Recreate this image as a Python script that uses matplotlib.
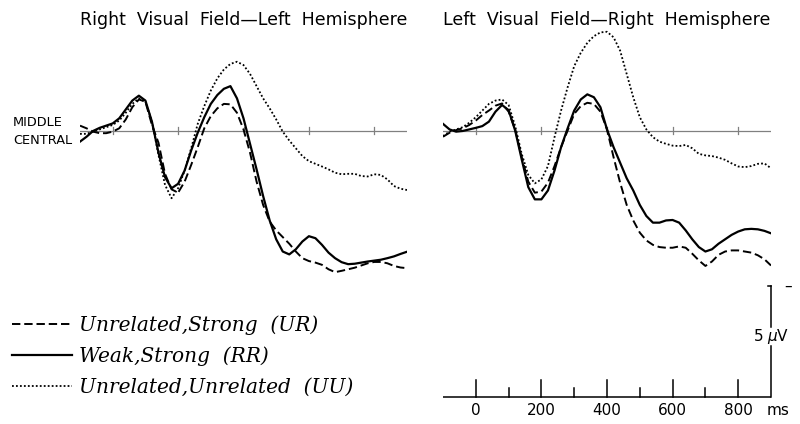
import matplotlib.pyplot as plt

# time axis (ms) and averaged ERP amplitudes (microvolts, negative up)
times = list(range(-100, 901, 20))

left_ur = [-0.22, -0.1, 0.05, 0.12, 0.12, 0.05, -0.1, -0.5, -1.05, -1.4,
           -1.3, -0.25, 0.55, 1.95, 2.65, 2.8, 2.3, 1.55, 0.75, -0.1,
           -0.65, -1.0, -1.2, -1.18, -0.8, -0.05, 1.0, 2.3, 3.35, 4.1,
           4.5, 4.8, 5.1, 5.45, 5.75, 5.88, 5.95, 6.05, 6.25, 6.38,
           6.32, 6.25, 6.18, 6.08, 5.98, 5.92, 5.92, 5.98, 6.1, 6.17, 6.2]
left_rr = [0.5, 0.28, 0.02, -0.12, -0.22, -0.32, -0.55, -0.95, -1.35, -1.57,
           -1.35, -0.4, 1.0, 2.1, 2.6, 2.4, 1.8, 0.9, 0.1, -0.6,
           -1.2, -1.6, -1.88, -2.0, -1.45, -0.55, 0.6, 1.75, 2.95, 4.05,
           4.9, 5.45, 5.58, 5.35, 5.0, 4.76, 4.85, 5.15, 5.5, 5.75,
           5.93, 6.02, 6.0, 5.95, 5.9, 5.86, 5.82, 5.75, 5.67, 5.56, 5.46]
left_uu = [0.15, 0.15, 0.05, -0.05, -0.15, -0.25, -0.45, -0.8, -1.2, -1.45,
           -1.3, -0.4, 1.1, 2.45, 3.05, 2.6, 1.8, 0.8, -0.3, -1.1,
           -1.8, -2.35, -2.75, -3.0, -3.1, -2.95, -2.55, -2.0, -1.45, -1.0,
           -0.5, 0.05, 0.45, 0.8, 1.15, 1.38, 1.5, 1.62, 1.75, 1.9,
           1.97, 1.95, 1.95, 2.05, 2.07, 1.97, 2.0, 2.2, 2.5, 2.62, 2.68]

right_ur = [0.28, 0.1, -0.02, -0.1, -0.25, -0.45, -0.7, -0.9, -1.12, -1.22,
            -0.85, -0.05, 1.2, 2.3, 2.8, 2.75, 2.35, 1.6, 0.75, 0.0,
            -0.75, -1.1, -1.25, -1.2, -0.85, -0.05, 1.2, 2.35, 3.35, 4.05,
            4.6, 4.95, 5.15, 5.25, 5.28, 5.28, 5.22, 5.28, 5.55, 5.85,
            6.1, 5.9, 5.6, 5.45, 5.4, 5.4, 5.45, 5.5, 5.62, 5.8, 6.08]
right_rr = [-0.3, -0.05, 0.05, 0.02, -0.05, -0.12, -0.2, -0.4, -0.85, -1.15,
            -0.92, 0.0, 1.3, 2.55, 3.1, 3.1, 2.7, 1.8, 0.75, -0.1,
            -0.9, -1.4, -1.63, -1.5, -1.05, -0.05, 0.75, 1.45, 2.15, 2.7,
            3.35, 3.85, 4.15, 4.15, 4.05, 4.03, 4.15, 4.5, 4.9, 5.25,
            5.45, 5.35, 5.1, 4.9, 4.7, 4.55, 4.45, 4.43, 4.45, 4.52, 4.63]
right_uu = [0.25, 0.05, -0.05, -0.15, -0.35, -0.6, -0.9, -1.2, -1.35, -1.4,
            -1.15, -0.2, 1.05, 2.0, 2.38, 2.2, 1.6, 0.3, -0.9, -1.95,
            -2.9, -3.5, -3.95, -4.25, -4.42, -4.45, -4.2, -3.6, -2.55, -1.5,
            -0.6, -0.05, 0.3, 0.5, 0.6, 0.68, 0.7, 0.65, 0.8, 1.05,
            1.12, 1.15, 1.22, 1.32, 1.48, 1.62, 1.65, 1.6, 1.5, 1.48, 1.7]

panel_titles = ["Right  Visual  Field\u2014Left  Hemisphere",
                "Left  Visual  Field\u2014Right  Hemisphere"]
legend_labels = ["Unrelated,Strong  (UR)", "Weak,Strong  (RR)",
                 "Unrelated,Unrelated  (UU)"]
major_ticks = [0, 200, 400, 600, 800]
minor_ticks = [100, 300, 500, 700]

styles = {
    "ur": dict(color="black", lw=1.4, linestyle=(0, (4.3, 2.0))),
    "rr": dict(color="black", lw=1.6, linestyle="-"),
    "uu": dict(color="black", lw=1.3, linestyle=(0, (1.0, 1.2))),
}

fig = plt.figure(figsize=(8, 4.24), dpi=100)

# y range chosen so that 0 uV sits on the baseline row and 5 uV = 111 px
ylims = (13.22, -5.88)
ax_l = fig.add_axes([80 / 800, 0, 327 / 800, 1])
ax_r = fig.add_axes([443 / 800, 0, 328 / 800, 1])

panels = [(ax_l, left_ur, left_rr, left_uu), (ax_r, right_ur, right_rr, right_uu)]
handles = []
for ax, ur, rr, uu in panels:
    ax.set_xlim(-100, 900)
    ax.set_ylim(*ylims)
    ax.axis("off")
    ax.plot([-100, 900], [0, 0], color="#808080", lw=0.9)
    for t in major_ticks:
        ax.plot([t, t], [-0.16, 0.16], color="#808080", lw=0.9)
    h1, = ax.plot(times, ur, **styles["ur"])
    h2, = ax.plot(times, rr, **styles["rr"])
    h3, = ax.plot(times, uu, **styles["uu"])
    handles = [h1, h2, h3]

for ax, title in zip([ax_l, ax_r], panel_titles):
    ax.text(400, -5.0, title, ha="center", va="center", fontsize=12.5)

fig.text(13 / 800, 1 - 123 / 424, "MIDDLE", ha="left", va="center", fontsize=9.3)
fig.text(13 / 800, 1 - 141 / 424, "CENTRAL", ha="left", va="center", fontsize=9.3)

# time scale and calibration bar below the right panel
axis_y = 12.0
ax_r.plot([-100, 900], [axis_y, axis_y], color="black", lw=1.1)
for t in major_ticks:
    ax_r.plot([t, t], [axis_y, axis_y - 0.76], color="black", lw=1.1)
    ax_r.text(t, 12.6, str(t), ha="center", va="center", fontsize=11)
for t in minor_ticks:
    ax_r.plot([t, t], [axis_y, axis_y - 0.4], color="black", lw=1.1)
ax_r.text(921, 12.6, "ms", ha="center", va="center", fontsize=11, clip_on=False)

ax_r.plot([900, 900], [7.0, 8.85], color="black", lw=1.1, clip_on=False)
ax_r.plot([900, 900], [9.7, axis_y], color="black", lw=1.1, clip_on=False)
ax_r.plot([892, 900], [7.0, 7.0], color="black", lw=1.1, clip_on=False)
ax_r.text(952, 7.0, "\u2013", ha="center", va="center", fontsize=11, clip_on=False)
ax_r.text(862, 9.3, "5", ha="center", va="center", fontsize=11, clip_on=False)
ax_r.text(921, 9.3, r"$\mu$V", ha="center", va="center", fontsize=11, clip_on=False)

fig.legend(handles, legend_labels, loc="upper left",
           bbox_to_anchor=(12 / 800, 1 - 315 / 424), frameon=False,
           prop={"family": "DejaVu Serif", "style": "italic", "size": 14.5},
           handlelength=3.0, handletextpad=0.35, labelspacing=0.58,
           borderpad=0, borderaxespad=0)

fig.savefig("out.png", dpi=100)
